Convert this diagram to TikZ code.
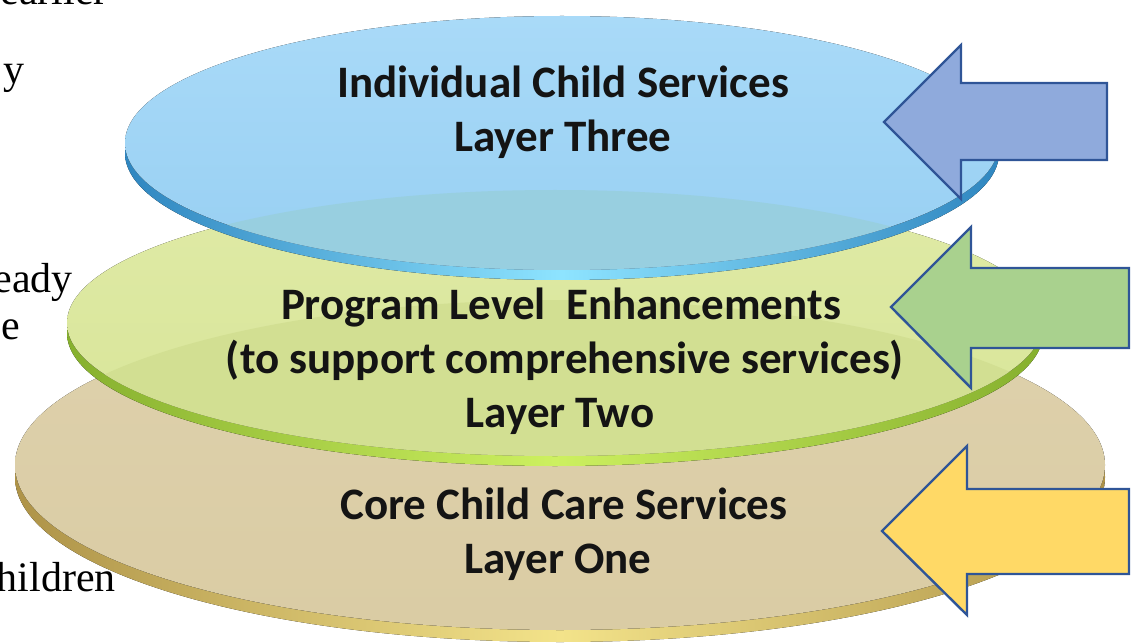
\documentclass[tikz,border=0pt]{standalone}
\usepackage{fontspec}
\setmainfont{Liberation Serif}
\newfontfamily\layerfont{Carlito}
\definecolor{blueTop}{HTML}{A9DAF8}
\definecolor{blueBot}{HTML}{97CFF2}
\definecolor{blueOver}{HTML}{98CFE0}
\definecolor{blueRimA}{HTML}{2F86C0}
\definecolor{blueRimB}{HTML}{8EE4FF}
\definecolor{greenTop}{HTML}{DFEAA6}
\definecolor{greenBot}{HTML}{D8E598}
\definecolor{greenOver}{HTML}{D2DF92}
\definecolor{greenRimA}{HTML}{86B02E}
\definecolor{greenRimB}{HTML}{CDF060}
\definecolor{tanTop}{HTML}{DED1AC}
\definecolor{tanBot}{HTML}{DACCA4}
\definecolor{tanRimA}{HTML}{AE9348}
\definecolor{tanRimB}{HTML}{F3E38A}
\definecolor{arrowLine}{HTML}{2F5597}
\definecolor{arrowBlue}{HTML}{8FAADC}
\definecolor{arrowGreen}{HTML}{A9D18E}
\definecolor{arrowYellow}{HTML}{FFD966}
\begin{document}
\begin{tikzpicture}[x=1pt,y=-1pt,
  layertext/.style={font=\layerfont\bfseries\fontsize{45}{54}\selectfont,
    anchor=base, inner sep=0pt, text=black!92},
  sidetext/.style={font=\fontsize{42}{50}\selectfont, anchor=base east,
    inner sep=0pt, text=black},
  pointer/.style={draw=arrowLine, line width=2.4pt, line join=miter}]
\useasboundingbox (0,0) rectangle (1132,644);
\clip (0,0) rectangle (1132,644);

% words of the surrounding page, cut by the left margin
\node[sidetext] (w1) at (108,5) {earlier};
\node[sidetext] (w2) at (25,84) {y};
\node[sidetext] (w3) at (73,293) {eady};
\node[sidetext] (w4) at (20,339) {e};
\node[sidetext] (w5) at (116,591) {hildren};

% bottom disc
\fill[left color=tanRimA, right color=tanRimA, middle color=tanRimB]
  (560,477) ellipse (545 and 165);
\fill[top color=tanTop, bottom color=tanBot] (560,465) ellipse (545 and 165);

% middle disc
\fill[left color=greenRimA, right color=greenRimA, middle color=greenRimB]
  (555,333) ellipse (488 and 133);
\fill[top color=greenTop, bottom color=greenBot] (555,323) ellipse (488 and 133);
\begin{scope}
  \clip (560,465) ellipse (545 and 165) (560,477) ellipse (545 and 165);
  \fill[greenOver] (555,323) ellipse (488 and 133);
\end{scope}

% top disc
\fill[left color=blueRimA, right color=blueRimA, middle color=blueRimB]
  (562,153) ellipse (437 and 127);
\fill[top color=blueTop, bottom color=blueBot] (562,143) ellipse (437 and 127);
\begin{scope}
  \clip (555,323) ellipse (488 and 133) (555,333) ellipse (488 and 133);
  \fill[blueOver] (562,143) ellipse (437 and 127);
\end{scope}

% layer labels
\node[layertext] (l3a) at (563,98) {Individual Child Services};
\node[layertext] (l3b) at (563,152) {Layer Three};
\node[layertext] (l2a) at (561,319) {Program Level~ Enhancements};
\node[layertext] (l2b) at (565,373) {(to support comprehensive services)};
\node[layertext] (l2c) at (560,427) {Layer Two};
\node[layertext] (l1a) at (564,519) {Core Child Care Services};
\node[layertext] (l1b) at (558,573) {Layer One};

% block arrows pointing at the layers
\draw[pointer, fill=arrowBlue] (884,122) -- (961,45) -- (961,83) -- (1107,83)
  -- (1107,160) -- (961,160) -- (961,199) -- cycle;
\draw[pointer, fill=arrowGreen] (891,307) -- (971,227) -- (971,268) -- (1129,268)
  -- (1129,348) -- (971,348) -- (971,388) -- cycle;
\draw[pointer, fill=arrowYellow] (882,531) -- (967,446) -- (967,489) -- (1129,489)
  -- (1129,574) -- (967,574) -- (967,615) -- cycle;
\end{tikzpicture}
\end{document}
